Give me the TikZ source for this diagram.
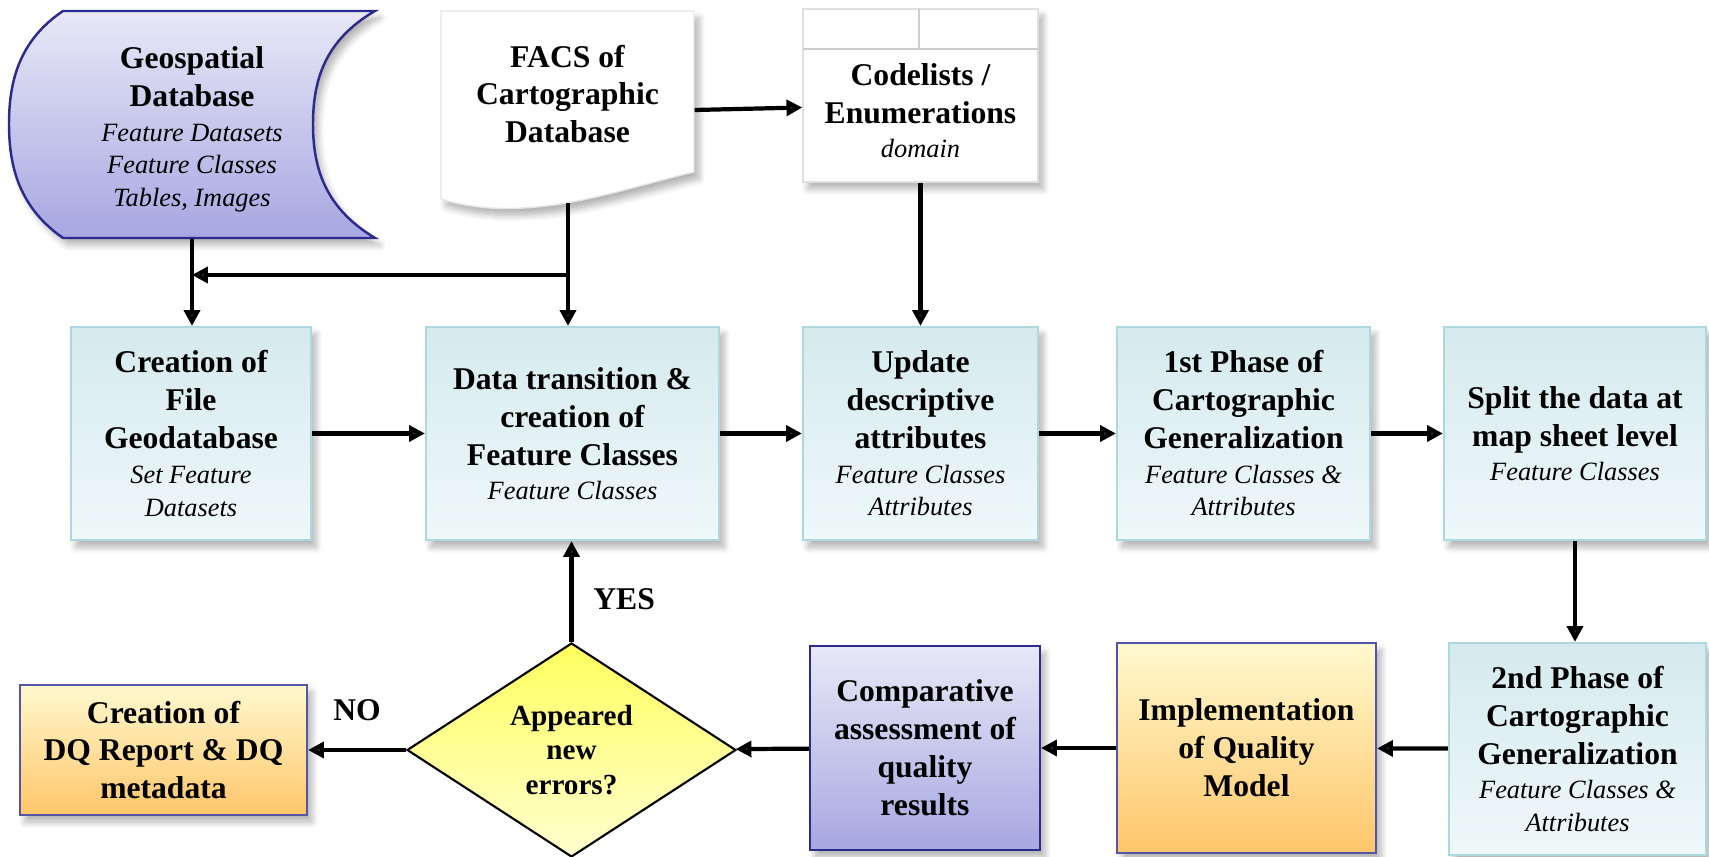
\documentclass[tikz,border=0pt]{standalone}
\usepackage{fontspec}
\setmainfont{Liberation Serif}
\usetikzlibrary{shapes.geometric,shadows.blur,arrows.meta}

\definecolor{cyantop}{HTML}{D5EAEE}
\definecolor{cyanbot}{HTML}{EFF8F9}
\definecolor{cyanline}{HTML}{ADD9DE}
\definecolor{lavtop}{HTML}{E8E8F7}
\definecolor{lavbot}{HTML}{A7A7E2}
\definecolor{navy}{HTML}{2B2B8E}
\definecolor{orgtop}{HTML}{FFF9CF}
\definecolor{orgbot}{HTML}{FFC66A}
\definecolor{yeltop}{HTML}{FFFF5E}
\definecolor{yelbot}{HTML}{FFFFCF}

\newcommand{\featfont}{\fontsize{7.5}{9.3}\selectfont\mdseries\itshape}

\begin{document}
\begin{tikzpicture}[x=0.1mm,y=-0.1mm,
    every node/.style={align=center, font=\fontsize{9}{10.8}\selectfont\bfseries},
    soft/.style={blur shadow={shadow xshift=0.5mm, shadow yshift=-0.7mm, shadow opacity=30, shadow blur steps=6}},
    phasebox/.style={rectangle, draw=cyanline, line width=0.6pt, top color=cyantop, bottom color=cyanbot, inner sep=1pt, soft},
    qualbox/.style={rectangle, draw=navy!80, line width=0.6pt, top color=orgtop, bottom color=orgbot, inner sep=1pt, soft},
    lavbox/.style={rectangle, draw=navy, line width=0.6pt, top color=lavtop, bottom color=lavbot, inner sep=1pt, soft},
    errbox/.style={diamond, aspect=1.5, draw=black, line width=0.6pt, top color=yeltop, bottom color=yelbot, inner sep=0pt, font=\fontsize{8.3}{9.7}\selectfont\bfseries},
    arr/.style={line width=1.2pt, -{Triangle[length=4.5pt,width=4.5pt]}},
  ]
  \useasboundingbox (0,0) rectangle (1709,857);

  % sources
  \path[draw=navy, line width=0.7pt, top color=lavtop, bottom color=lavbot, soft]
    (63,11) -- (375,11) .. controls (325,40) and (313,80) .. (313,124)
    .. controls (313,168) and (325,208) .. (375,238) -- (63,238)
    .. controls (20,208) and (9,168) .. (9,124)
    .. controls (9,80) and (20,40) .. (63,11) -- cycle;
  \filldraw[fill=white, draw=gray!20, soft]
    (441,11) -- (694,11) -- (694,172)
    .. controls (620,190) and (560,212) .. (490,208)
    .. controls (465,206) and (450,202) .. (441,199) -- cycle;
  \filldraw[fill=white, draw=gray!25, soft] (803,9) rectangle (1038,182);
  \draw[gray!40, line width=0.8pt] (803,49) -- (1038,49);
  \draw[gray!40, line width=0.8pt] (919,9) -- (919,49);

  \node[minimum width=36.6mm, minimum height=21.7mm] (geo) at (192,129.5)
    {Geospatial\\Database\\[-1pt]\featfont Feature Datasets\\[-1.5pt]\featfont Feature Classes\\[-1.5pt]\featfont Tables, Images};
  \node[minimum width=25.3mm] (facs) at (567.5,94) {FACS of\\Cartographic\\Database};
  \node[minimum width=23.5mm, minimum height=14.3mm] (code) at (920.5,110.5)
    {Codelists /\\Enumerations\\[-1pt]\featfont domain};
  \coordinate (facsfoot) at (568,203);
  \coordinate (fork) at (568,275);

  % second row
  \begin{scope}[every node/.append style={phasebox, minimum height=21.3mm}]
    \node[minimum width=24mm]   (create) at (191,433.5)
      {Creation of\\File\\Geodatabase\\[-1pt]\featfont Set Feature\\[-1.5pt]\featfont Datasets};
    \node[minimum width=29.3mm] (trans)  at (572.5,433.5)
      {Data transition \&\\creation of\\Feature Classes\\[-1pt]\featfont Feature Classes};
    \node[minimum width=23.5mm] (upd)    at (920.5,433.5)
      {Update\\descriptive\\attributes\\[-1pt]\featfont Feature Classes\\[-1.5pt]\featfont Attributes};
    \node[minimum width=25.3mm] (ph1)    at (1243.5,433.5)
      {1st Phase of\\Cartographic\\Generalization\\[-1pt]\featfont Feature Classes \&\\[-1.5pt]\featfont Attributes};
    \node[minimum width=26.2mm] (split)  at (1575,433.5)
      {Split the data at\\map sheet level\\[-1pt]\featfont Feature Classes};
  \end{scope}

  % third row
  \node[phasebox, minimum width=25.7mm, minimum height=21.2mm] (ph2) at (1577.5,749)
    {2nd Phase of\\Cartographic\\Generalization\\[-1pt]\featfont Feature Classes \&\\[-1.5pt]\featfont Attributes};
  \node[qualbox, minimum width=25.9mm, minimum height=21mm] (impl) at (1246.5,748)
    {Implementation\\of Quality\\Model};
  \node[lavbox, minimum width=23mm, minimum height=20.4mm] (comp) at (925,748)
    {Comparative\\assessment of\\quality\\results};
  \node[errbox, minimum width=32.9mm, minimum height=21.4mm] (err) at (571.5,750)
    {Appeared\\new\\errors?};
  \node[qualbox, minimum width=28.7mm, minimum height=13mm] (dq) at (163.5,750)
    {Creation of\\DQ Report \& DQ\\metadata};

  % connectors
  \draw[arr] (geo.south) -- (geo.south |- create.north);
  \draw[arr] (facsfoot) -- (facsfoot |- trans.north);
  \draw[arr] (fork) -- (fork -| geo.south);
  \draw[arr] ([yshift=-1.6mm]facs.east) -- ([yshift=0.3mm]code.west);
  \draw[arr] (code.south) -- (upd.north);
  \draw[arr] (create) -- (trans);
  \draw[arr] (trans) -- (upd);
  \draw[arr] (upd) -- (ph1);
  \draw[arr] (ph1) -- (split);
  \draw[arr] (split.south) -- (split.south |- ph2.north);
  \draw[arr] (ph2) -- (impl);
  \draw[arr] (impl) -- (comp);
  \draw[arr] (comp) -- (err);
  \draw[arr] (err) -- node[above=1.5mm] (nolab) {NO} (dq);
  \draw[arr] (err.north) -- node[pos=0.42, right=0.8mm] (yeslab) {YES} (err.north |- trans.south);

\end{tikzpicture}
\end{document}
